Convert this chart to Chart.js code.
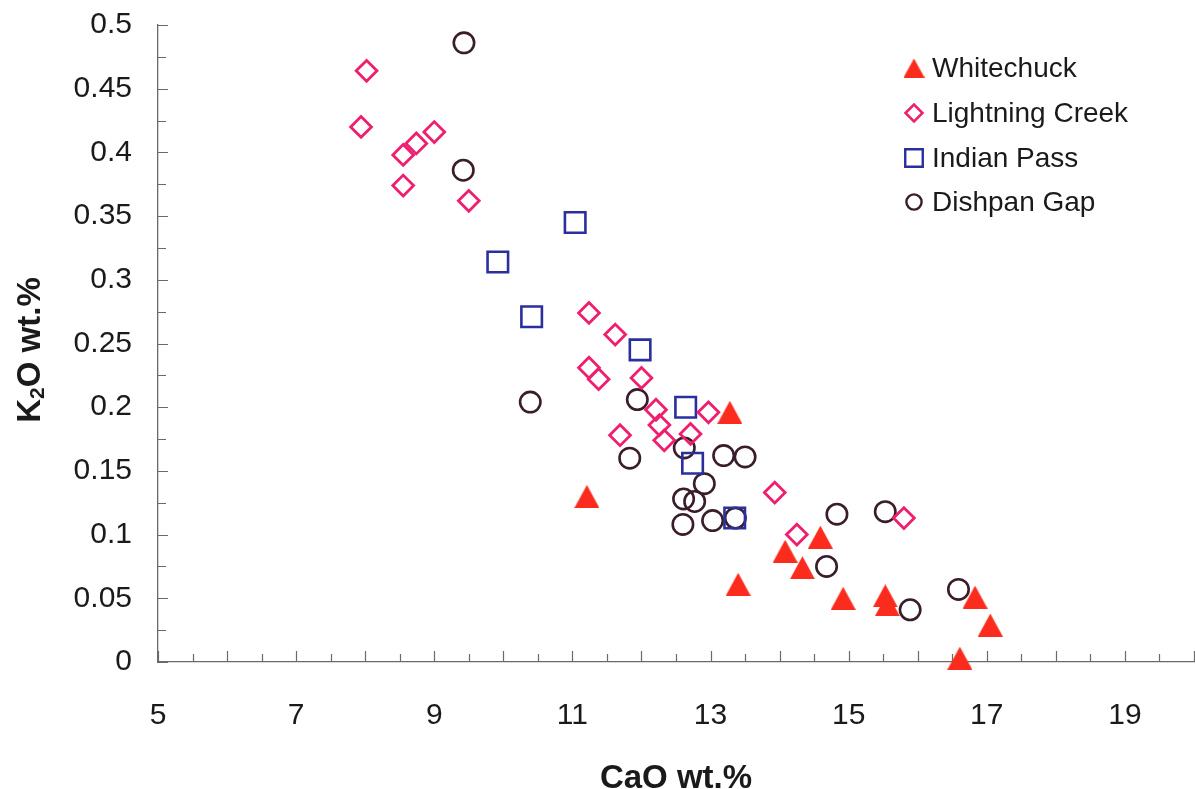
<!DOCTYPE html>
<html>
<head>
<meta charset="utf-8">
<script src="https://cdn.jsdelivr.net/npm/chart.js@4/dist/chart.umd.min.js"></script>
<style>
  html, body { margin: 0; padding: 0; background: #fff; }
  #wrap { width: 1195px; height: 789px; }
</style>
</head>
<body>
<div id="wrap"><canvas id="plot" width="1195" height="789"></canvas></div>
<script>
// CaO vs K2O (wt.%) for four tephra sources
const seriesNames = ['Whitechuck', 'Lightning Creek', 'Indian Pass', 'Dishpan Gap'];

const whitechuckCaO = [11.21, 13.28, 13.40, 14.08, 14.33, 14.59, 14.92, 15.53, 15.56, 16.61, 16.83, 17.05];
const whitechuckK2O = [0.130, 0.196, 0.061, 0.087, 0.074, 0.098, 0.050, 0.052, 0.045, 0.003, 0.051, 0.029];

const lightningCaO = [7.94, 8.02, 8.55, 8.55, 8.74, 9.00, 9.50, 11.24, 11.62, 11.24, 11.38, 12.00, 12.21, 12.26, 12.33, 11.69, 12.97, 12.71, 13.93, 14.25, 15.80];
const lightningK2O = [0.420, 0.464, 0.398, 0.374, 0.407, 0.416, 0.362, 0.274, 0.257, 0.231, 0.222, 0.223, 0.198, 0.186, 0.174, 0.178, 0.196, 0.179, 0.133, 0.100, 0.113];

const indianCaO = [9.92, 10.41, 11.04, 11.98, 12.64, 12.74, 13.35];
const indianK2O = [0.314, 0.271, 0.345, 0.245, 0.200, 0.156, 0.113];

const dishpanCaO = [9.43, 9.42, 10.39, 11.94, 11.83, 12.62, 13.19, 13.50, 12.91, 12.61, 12.77, 12.60, 13.03, 13.36, 14.83, 15.53, 14.68, 16.59, 15.89];
const dishpanK2O = [0.486, 0.386, 0.204, 0.206, 0.160, 0.168, 0.162, 0.161, 0.140, 0.128, 0.126, 0.108, 0.111, 0.113, 0.116, 0.118, 0.075, 0.057, 0.041];

const xMin = 5, xMax = 20, xStep = 0.5;
const yMin = 0, yMax = 0.5, yStep = 0.025;

const RED = '#fb2b1d';
const PINK = '#f01e6e';
const BLUE = '#2b2f9e';
const PLUM = '#3b1c2b';
const AXIS = '#6a6a6a';
const TEXT = '#1a1a1a';
const FONT = "'Liberation Sans', Arial, Helvetica, sans-serif";

function pairs(xs, ys) {
  return xs.map((x, i) => ({ x: x, y: ys[i] }));
}

// filled triangle centred on its bounding box
function triangleMarker(w, h, color) {
  const c = document.createElement('canvas');
  c.width = w;
  c.height = h;
  const g = c.getContext('2d');
  g.fillStyle = color;
  g.beginPath();
  g.moveTo(w / 2, 0);
  g.lineTo(w, h);
  g.lineTo(0, h);
  g.closePath();
  g.fill();
  return c;
}

const bigTriangle = triangleMarker(25, 23, RED);
const smallTriangle = triangleMarker(21, 19, RED);

// short tick marks pointing into the plot
const innerTicks = {
  id: 'innerTicks',
  beforeDatasetsDraw(chart) {
    const ctx = chart.ctx;
    const xs = chart.scales.x, ys = chart.scales.y;
    const area = chart.chartArea;
    ctx.save();
    ctx.strokeStyle = AXIS;
    ctx.lineWidth = 1.2;
    ctx.beginPath();
    xs.ticks.forEach(t => {
      const px = Math.round(xs.getPixelForValue(t.value)) + 0.5;
      const major = Number.isInteger(t.value);
      ctx.moveTo(px, area.bottom);
      ctx.lineTo(px, area.bottom - (major ? 11 : 8));
    });
    ys.ticks.forEach(t => {
      const py = Math.round(ys.getPixelForValue(t.value)) + 0.5;
      const major = Math.round(t.value * 1000) % 50 === 0;
      ctx.moveTo(area.left, py);
      ctx.lineTo(area.left + (major ? 10 : 8), py);
    });
    ctx.stroke();
    ctx.restore();
  }
};

// axis titles, with the subscript in K2O
const axisTitles = {
  id: 'axisTitles',
  afterDraw(chart) {
    const ctx = chart.ctx;
    const big = 'bold 33px ' + FONT;
    const small = 'bold 21px ' + FONT;
    ctx.save();
    ctx.fillStyle = TEXT;
    ctx.textBaseline = 'alphabetic';

    ctx.font = big;
    ctx.textAlign = 'center';
    ctx.fillText('CaO wt.%', 676, 788);

    ctx.translate(40, 350);
    ctx.rotate(-Math.PI / 2);
    ctx.textAlign = 'left';
    ctx.font = big;
    const wK = ctx.measureText('K').width;
    const wRest = ctx.measureText('O wt.%').width;
    ctx.font = small;
    const w2 = ctx.measureText('2').width;
    let x = -(wK + w2 + wRest) / 2;
    ctx.font = big;
    ctx.fillText('K', x, 0);
    x += wK;
    ctx.font = small;
    ctx.fillText('2', x, 4);
    x += w2;
    ctx.font = big;
    ctx.fillText('O wt.%', x, 0);
    ctx.restore();
  }
};

// legend box in the upper right of the plot
const cornerLegend = {
  id: 'cornerLegend',
  afterDraw(chart) {
    const ctx = chart.ctx;
    const mx = 914, tx = 932, rowY = [68, 113, 158, 202];
    const styles = [
      { pointStyle: smallTriangle, radius: 10, borderWidth: 0 },
      { pointStyle: 'rectRot', radius: 8.5, borderWidth: 2.5 },
      { pointStyle: 'rect', radius: 12.4, borderWidth: 2.4 },
      { pointStyle: 'circle', radius: 7.6, borderWidth: 2.4 }
    ];
    const colors = [RED, PINK, BLUE, PLUM];
    ctx.save();
    seriesNames.forEach((name, i) => {
      ctx.strokeStyle = colors[i];
      ctx.fillStyle = 'rgba(0,0,0,0)';
      ctx.lineWidth = styles[i].borderWidth;
      Chart.helpers.drawPoint(ctx, { pointStyle: styles[i].pointStyle, radius: styles[i].radius, rotation: 0, borderWidth: styles[i].borderWidth }, mx, rowY[i]);
      ctx.fillStyle = TEXT;
      ctx.font = '28px ' + FONT;
      ctx.textAlign = 'left';
      ctx.textBaseline = 'middle';
      ctx.fillText(name, tx, rowY[i] + 1);
    });
    ctx.restore();
  }
};

new Chart(document.getElementById('plot'), {
  type: 'scatter',
  data: {
    datasets: [
      {
        label: seriesNames[0],
        data: pairs(whitechuckCaO, whitechuckK2O),
        pointStyle: bigTriangle,
        pointRadius: 12,
        backgroundColor: RED,
        borderColor: RED,
        clip: false
      },
      {
        label: seriesNames[1],
        data: pairs(lightningCaO, lightningK2O),
        pointStyle: 'rectRot',
        pointRadius: 10.4,
        pointBorderWidth: 2.8,
        backgroundColor: 'rgba(0,0,0,0)',
        borderColor: PINK,
        clip: false
      },
      {
        label: seriesNames[2],
        data: pairs(indianCaO, indianK2O),
        pointStyle: 'rect',
        pointRadius: 14.5,
        pointBorderWidth: 2.6,
        backgroundColor: 'rgba(0,0,0,0)',
        borderColor: BLUE,
        clip: false
      },
      {
        label: seriesNames[3],
        data: pairs(dishpanCaO, dishpanK2O),
        pointStyle: 'circle',
        pointRadius: 10.2,
        pointBorderWidth: 2.6,
        backgroundColor: 'rgba(0,0,0,0)',
        borderColor: PLUM,
        clip: false
      }
    ]
  },
  options: {
    responsive: false,
    animation: false,
    events: [],
    layout: {
      autoPadding: false,
      padding: { top: 25, right: 1, bottom: 0, left: 0 }
    },
    plugins: {
      legend: { display: false },
      tooltip: { enabled: false }
    },
    scales: {
      x: {
        type: 'linear',
        min: xMin,
        max: xMax,
        grid: { display: false, drawTicks: false },
        border: { display: true, color: AXIS, width: 1.3 },
        ticks: {
          stepSize: xStep,
          autoSkip: false,
          maxRotation: 0,
          padding: 36,
          color: TEXT,
          font: { family: FONT, size: 30 },
          callback: v => (Number.isInteger(v) && v % 2 === 1) ? String(v) : ''
        },
        afterFit: s => {
          s.height = 127;
          s.paddingLeft = 0;
          s.paddingRight = 0;
        }
      },
      y: {
        type: 'linear',
        min: yMin,
        max: yMax,
        grid: { display: false, drawTicks: false },
        border: { display: true, color: AXIS, width: 1.3 },
        ticks: {
          stepSize: yStep,
          autoSkip: false,
          padding: 26,
          color: TEXT,
          font: { family: FONT, size: 30 },
          callback: v => {
            const r = Math.round(v * 1000);
            return r % 50 === 0 ? String(r / 1000) : '';
          }
        },
        afterFit: s => {
          s.width = 158;
          s.paddingTop = 0;
          s.paddingBottom = 0;
        }
      }
    }
  },
  plugins: [innerTicks, axisTitles, cornerLegend]
});
</script>
</body>
</html>
